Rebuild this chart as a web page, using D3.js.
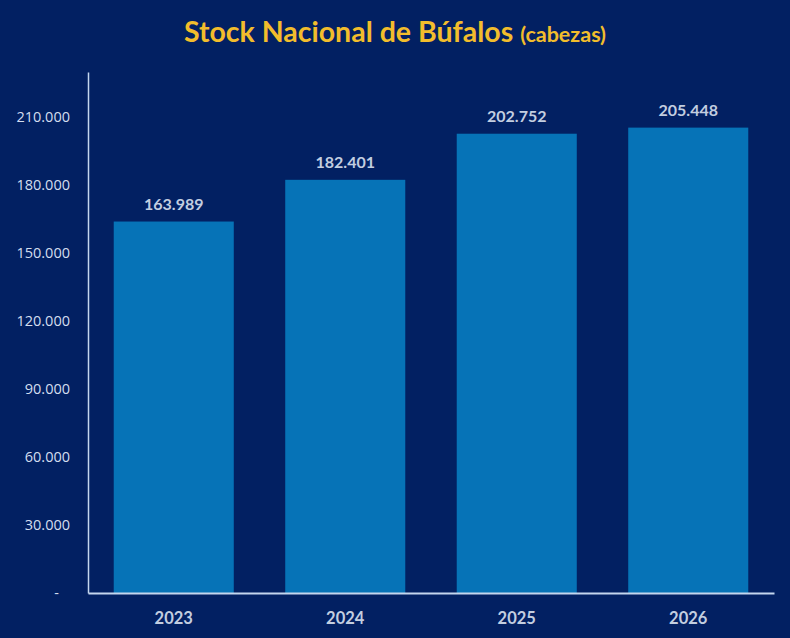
<!DOCTYPE html>
<html>
<head>
<meta charset="utf-8">
<script src="https://cdn.jsdelivr.net/npm/d3@7.9.0/dist/d3.min.js"></script>
<style>
  html, body { margin: 0; padding: 0; background: #022062; }
  svg { display: block; }
</style>
</head>
<body>
<svg id="chart" width="790" height="638"></svg>
<script>
// chart data
const years = ["2023", "2024", "2025", "2026"];
const stock = [163989, 182401, 202752, 205448];
const yTicks = [0, 30000, 60000, 90000, 120000, 150000, 180000, 210000];

const width = 790, height = 638;
const margin = { top: 72, right: 16, bottom: 45, left: 88 };

const svg = d3.select("#chart");

svg.append("rect")
  .attr("width", width)
  .attr("height", height)
  .attr("fill", "#022062");

// title
const title = svg.append("text")
  .attr("x", 395)
  .attr("y", 42)
  .attr("text-anchor", "middle")
  .attr("font-family", "Lato, 'Open Sans', sans-serif")
  .attr("font-weight", "bold")
  .attr("fill", "#f2bd2c");
title.append("tspan").attr("font-size", 28.5).text("Stock Nacional de Búfalos ");
title.append("tspan").attr("font-size", 21.5).text("(cabezas)");

// scales
const x = d3.scaleBand()
  .domain(years)
  .range([margin.left, width - margin.right])
  .paddingInner(0.3)
  .paddingOuter(0.15);

const y = d3.scaleLinear()
  .domain([0, 230000])
  .range([height - margin.bottom, margin.top]);

const fmt = d => d === 0 ? "-" : d3.format(",")(d).replace(/,/g, ".");

// bars
svg.append("g")
  .selectAll("rect")
  .data(stock)
  .join("rect")
  .attr("x", (d, i) => x(years[i]))
  .attr("y", d => y(d))
  .attr("width", x.bandwidth())
  .attr("height", d => y(0) - y(d))
  .attr("fill", "#0673b7");

// value labels
svg.append("g")
  .selectAll("text")
  .data(stock)
  .join("text")
  .attr("x", (d, i) => x(years[i]) + x.bandwidth() / 2)
  .attr("y", d => y(d) - 12)
  .attr("text-anchor", "middle")
  .attr("font-family", "Lato, 'Open Sans', sans-serif")
  .attr("font-weight", "bold")
  .attr("font-size", 16)
  .attr("fill", "#c3cee0")
  .text(d => fmt(d));

// y axis
const yAxis = svg.append("g")
  .attr("transform", `translate(${margin.left},0)`)
  .call(d3.axisLeft(y).tickValues(yTicks).tickSize(0).tickPadding(18).tickFormat(fmt));
yAxis.select(".domain").attr("stroke", "#c4d6ee").attr("stroke-width", 1.5);
yAxis.selectAll("text")
  .attr("font-family", "'Open Sans', sans-serif")
  .attr("font-size", 14.5)
  .attr("fill", "#d4deef")
  .attr("dx", d => d === 0 ? -11 : 0);

// x axis
const xAxis = svg.append("g")
  .attr("transform", `translate(0,${y(0)})`)
  .call(d3.axisBottom(x).tickSize(0).tickPadding(19));
xAxis.select(".domain").attr("stroke", "#c4d6ee").attr("stroke-width", 2);
xAxis.selectAll("text")
  .attr("font-family", "Lato, 'Open Sans', sans-serif")
  .attr("font-weight", "bold")
  .attr("font-size", 16.5)
  .attr("fill", "#c3cee0");
</script>
</body>
</html>
